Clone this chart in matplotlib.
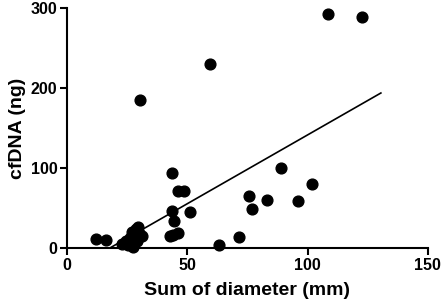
import matplotlib
matplotlib.use("Agg")
import matplotlib.pyplot as plt
import numpy as np

plt.rcParams['font.family'] = ['Liberation Sans', 'DejaVu Sans']
plt.rcParams['font.weight'] = 'bold'

sum_diameter = [12, 16, 23, 24.5, 25.5, 26, 27, 27.5, 28, 28.5, 29, 29.5, 30, 31, 30.5,
                43.5, 43.5, 44.5, 43, 44, 46, 46, 48.5, 51, 59.5, 63, 71.5, 75.5, 77,
                83, 89, 96, 102, 108.5, 122.5]
cfdna = [11, 10, 5, 8, 3, 12, 20, 1, 15, 24, 9, 26, 18, 15, 185,
         93, 46, 33, 15, 16, 18, 71, 71, 45, 230, 3, 13, 65, 48,
         60, 100, 59, 80, 293, 289]
fit_slope = 1.72
fit_intercept = -30.8
fit_x_range = [12, 130.5]

xticks = [0, 50, 100, 150]
yticks = [0, 100, 200, 300]

fig = plt.figure(figsize=(4.47, 3.06), dpi=100)
ax = fig.add_axes([0.150, 0.190, 0.807, 0.784])

ax.scatter(sum_diameter, cfdna, s=60, color='black', zorder=3, clip_on=False)
fx = np.array(fit_x_range)
ax.plot(fx, fit_slope * fx + fit_intercept, color='black', lw=1.2, zorder=2)

ax.set_xlim(0, 150)
ax.set_ylim(0, 300)
ax.set_xticks(xticks)
ax.set_yticks(yticks)
for s in ['top', 'right']:
    ax.spines[s].set_visible(False)
for s in ['left', 'bottom']:
    ax.spines[s].set_linewidth(1.5)
ax.tick_params(direction='out', length=5, width=1.5, labelsize=11.5, pad=2)
for lab in ax.get_xticklabels() + ax.get_yticklabels():
    lab.set_fontweight('bold')
ax.set_xlabel('Sum of diameter (mm)', fontsize=14, fontweight='bold', labelpad=7)
ax.set_ylabel('cfDNA (ng)', fontsize=14, fontweight='bold', labelpad=3)

fig.savefig('out.png', dpi=100)
